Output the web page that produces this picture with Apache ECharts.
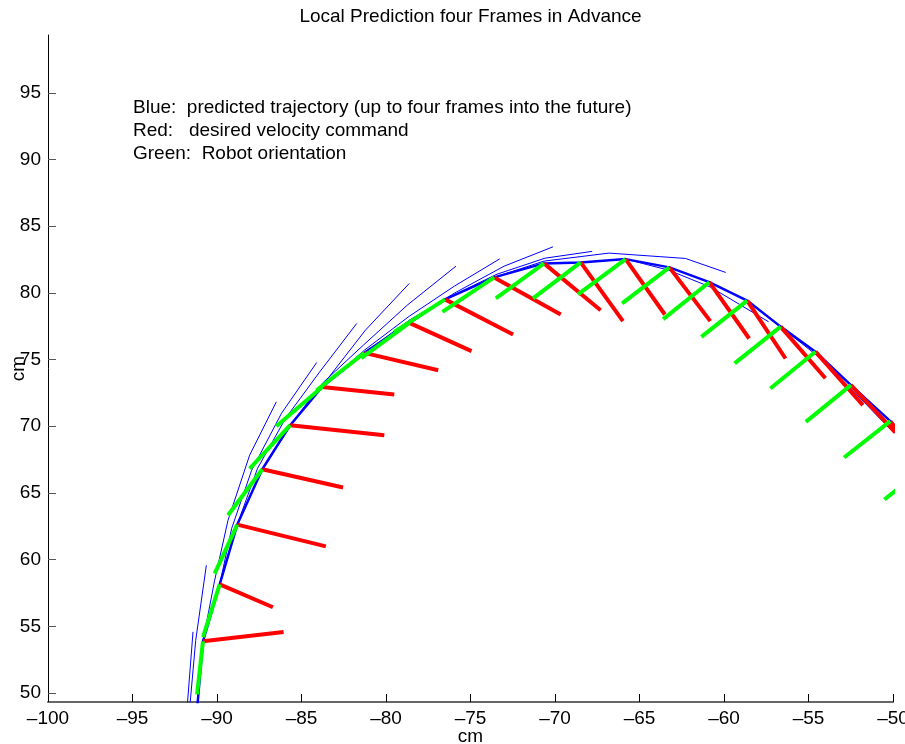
<!DOCTYPE html>
<html><head><meta charset="utf-8">
<script src="https://cdn.jsdelivr.net/npm/echarts@6/dist/echarts.min.js"></script>
<style>html,body{margin:0;padding:0;background:#fff}#c{width:905px;height:744px}</style>
</head><body><div id="c"></div>
<script>
// ---- data (cm) ----
const trajX = [-91.30, -90.83, -89.84, -88.80, -87.32, -85.67, -83.78, -81.28, -78.62, -76.51, -73.60, -70.65, -68.48, -65.82, -63.23, -60.87, -58.63, -56.65, -54.59, -52.49, -50.16, -47.80];
const trajY = [47.00, 53.88, 58.15, 62.63, 66.78, 70.08, 72.95, 75.50, 77.75, 79.51, 81.16, 82.21, 82.28, 82.53, 81.91, 80.80, 79.42, 77.47, 75.59, 73.08, 70.38, 67.23];
const redEndX = [null, -86.06, -86.69, -83.56, -82.54, -80.10, -79.51, -76.91, -74.94, -72.48, -69.66, -67.30, -65.98, -63.50, -60.81, -58.51, -56.36, -54.00, -51.78, -49.86, -48.30, -46.20];
const redEndY = [null, 54.58, 56.43, 61.00, 65.41, 69.33, 72.38, 74.20, 75.63, 76.88, 78.38, 78.70, 77.88, 78.38, 77.88, 76.58, 75.08, 73.60, 71.58, 69.55, 67.40, 64.50];
const greenEndX = [null, -91.18, -90.83, -90.14, -89.35, -88.07, -86.49, -84.11, -81.46, -79.51, -76.66, -73.50, -71.30, -68.64, -66.03, -63.60, -61.34, -59.37, -57.26, -55.16, -52.89, -50.51];
const greenEndY = [null, 49.90, 54.20, 58.96, 63.33, 66.83, 70.00, 72.70, 75.10, 77.08, 78.58, 79.58, 79.58, 79.88, 79.21, 78.03, 76.70, 74.71, 72.83, 70.33, 67.66, 64.51];
const predX = [
  [-91.79, -91.42],
  [-91.64, -91.26, -90.63],
  [-90.83, -90.14, -89.35, -88.07, -86.49],
  [-89.84, -89.13, -87.95, -86.18, -84.10],
  [-88.80, -87.60, -85.94, -83.94, -81.73],
  [-87.32, -85.59, -83.58, -81.22, -78.62],
  [-85.67, -83.76, -81.34, -78.74, -75.86],
  [-83.78, -81.28, -78.62, -75.96, -73.27],
  [-81.28, -78.62, -75.85, -73.01, -70.12],
  [-78.62, -76.26, -73.43, -70.59, -67.80],
  [-73.60, -70.65, -66.81, -62.28, -59.90],
  [-65.82, -63.27, -60.79, -57.36],
  [-56.65, -54.53, -52.34, -49.80]
];
const predY = [
  [48.55, 54.59],
  [48.55, 53.95, 59.58],
  [53.88, 58.45, 62.95, 67.83, 71.83],
  [58.15, 62.35, 66.70, 70.98, 74.78],
  [62.63, 66.85, 70.60, 74.05, 77.71],
  [66.78, 70.13, 73.35, 77.20, 80.71],
  [70.08, 73.23, 76.08, 79.08, 82.00],
  [72.95, 75.70, 78.25, 80.50, 82.55],
  [75.50, 77.95, 80.05, 82.00, 83.45],
  [77.75, 79.68, 81.40, 82.60, 83.11],
  [81.16, 82.38, 82.98, 82.58, 81.53],
  [82.53, 81.70, 80.43, 77.83],
  [77.47, 75.33, 72.63, 69.30]
];
const yTicks = [50, 55, 60, 65, 70, 75, 80, 85, 90, 95];
const titleText = 'Local Prediction four Frames in Advance';
const noteLines = [
  'Blue:  predicted trajectory (up to four frames into the future)',
  'Red:   desired velocity command',
  'Green:  Robot orientation'
];

const FONT = '"Liberation Sans", Arial, Helvetica, sans-serif';
const chart = echarts.init(document.getElementById('c'), null, {renderer: 'canvas'});
const series = [];
function seg(points, color, width, z) {
  series.push({type: 'line', data: points, symbol: 'none', clip: true, silent: true,
    animation: false, z: z, lineStyle: {color: color, width: width, cap: 'butt', join: 'round'}});
}
predX.forEach((xs, k) => seg(xs.map((x, j) => [x, predY[k][j]]), '#0000ff', 1, 2));
seg(trajX.map((x, i) => [x, trajY[i]]), '#0000ff', 2.5, 3);
trajX.forEach((x, i) => {
  if (redEndX[i] !== null) seg([[x, trajY[i]], [redEndX[i], redEndY[i]]], '#ff0000', 4, 4);
});
trajX.forEach((x, i) => {
  if (greenEndX[i] !== null) seg([[x, trajY[i]], [greenEndX[i], greenEndY[i]]], '#00ff00', 4, 5);
});

const fmt = v => String(v).replace('-', '\u2013');
chart.setOption({
  backgroundColor: '#fff',
  animation: false,
  grid: {left: 48, right: 12, top: 35, bottom: 42, containLabel: false, outerBoundsMode: 'none'},
  xAxis: {
    type: 'value', min: -100, max: -50, interval: 5,
    name: 'cm', nameLocation: 'middle', nameGap: 25, nameMoveOverlap: false,
    nameTextStyle: {fontFamily: FONT, fontSize: 19, color: '#000'},
    axisLine: {show: true, onZero: false, lineStyle: {color: '#666', width: 2}},
    axisTick: {show: true, inside: true, length: 8, lineStyle: {color: '#000', width: 1}},
    axisLabel: {show: true, margin: 7, fontFamily: FONT, fontSize: 19, color: '#000', formatter: fmt},
    splitLine: {show: false}
  },
  yAxis: {
    type: 'value', min: 49.33, max: 99.33,
    name: 'cm', nameLocation: 'middle', nameGap: 20, nameRotate: 90, nameMoveOverlap: false,
    nameTextStyle: {fontFamily: FONT, fontSize: 19, color: '#000'},
    axisLine: {show: true, onZero: false, lineStyle: {color: '#000', width: 1}},
    axisTick: {show: true, inside: true, length: 8, customValues: yTicks, lineStyle: {color: '#555', width: 1}},
    axisLabel: {show: true, margin: 7, fontFamily: FONT, fontSize: 19, color: '#000', customValues: yTicks, formatter: fmt},
    splitLine: {show: false}
  },
  graphic: [
    {type: 'text', x: 470.5, y: 17, style: {text: titleText, font: '19px ' + FONT, fill: '#000', align: 'center', verticalAlign: 'middle', textAlign: 'center', textVerticalAlign: 'middle'}}
  ].concat(noteLines.map((t, i) => ({
    type: 'text', x: 133, y: 108 + i * 22.7,
    style: {text: t, font: '19px ' + FONT, fill: '#000', align: 'left', verticalAlign: 'middle', textAlign: 'left', textVerticalAlign: 'middle'}
  }))),
  series: series
});
</script>
</body></html>
